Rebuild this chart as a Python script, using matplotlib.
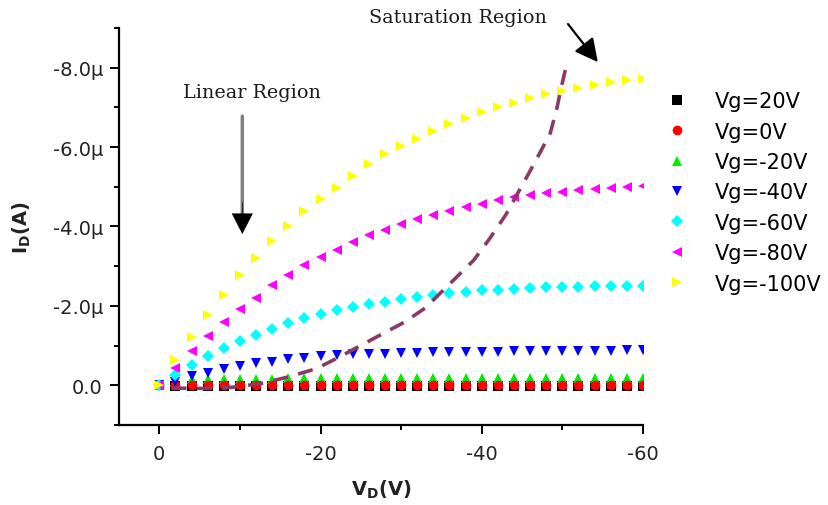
import numpy as np
import matplotlib
matplotlib.use("Agg")
import matplotlib.pyplot as plt
from matplotlib.ticker import FixedLocator, FuncFormatter

# drain voltage sweep (V)
vd = [0, -2, -4, -6, -8, -10, -12, -14, -16, -18, -20, -22, -24, -26, -28, -30,
      -32, -34, -36, -38, -40, -42, -44, -46, -48, -50, -52, -54, -56, -58, -60]

# drain current (uA) for each gate voltage
id_20 = [0.0, 0.02, 0.02, 0.02, 0.02, 0.02, 0.02, 0.02, 0.02, 0.02, 0.02, 0.02,
         0.02, 0.02, 0.02, 0.02, 0.02, 0.02, 0.02, 0.02, 0.02, 0.02, 0.02, 0.02,
         0.02, 0.02, 0.02, 0.02, 0.02, 0.02, 0.02]
id_0 = [0.0, 0.0, 0.0, 0.0, 0.0, 0.0, 0.0, 0.0, 0.0, 0.0, 0.0, 0.0, 0.0, 0.0,
        0.0, 0.0, 0.0, 0.0, 0.0, 0.0, 0.0, 0.0, 0.0, 0.0, 0.0, 0.0, 0.0, 0.0,
        0.0, 0.0, 0.0]
id_m20 = [0.0, -0.10, -0.15, -0.17, -0.17, -0.17, -0.17, -0.17, -0.18, -0.18,
          -0.18, -0.18, -0.18, -0.18, -0.18, -0.18, -0.18, -0.18, -0.18, -0.18,
          -0.18, -0.18, -0.18, -0.18, -0.18, -0.18, -0.18, -0.18, -0.18, -0.18,
          -0.18]
id_m40 = [0.0, -0.09, -0.23, -0.31, -0.41, -0.49, -0.55, -0.59, -0.65, -0.69,
          -0.73, -0.76, -0.78, -0.80, -0.80, -0.81, -0.82, -0.83, -0.84, -0.84,
          -0.85, -0.85, -0.86, -0.86, -0.86, -0.87, -0.87, -0.87, -0.87, -0.88,
          -0.88]
id_m60 = [0.0, -0.25, -0.52, -0.73, -0.95, -1.11, -1.27, -1.42, -1.56, -1.69,
          -1.79, -1.89, -1.97, -2.04, -2.11, -2.18, -2.23, -2.28, -2.32, -2.36,
          -2.39, -2.41, -2.43, -2.45, -2.47, -2.47, -2.48, -2.49, -2.50, -2.51,
          -2.51]
id_m80 = [0.0, -0.44, -0.86, -1.25, -1.60, -1.92, -2.21, -2.52, -2.78, -3.02,
          -3.22, -3.42, -3.61, -3.78, -3.92, -4.06, -4.18, -4.29, -4.39, -4.49,
          -4.57, -4.67, -4.74, -4.79, -4.84, -4.88, -4.91, -4.94, -4.96, -5.00,
          -5.02]
id_m100 = [0.0, -0.63, -1.22, -1.77, -2.28, -2.77, -3.21, -3.63, -4.01, -4.39,
           -4.70, -4.98, -5.28, -5.57, -5.82, -6.04, -6.20, -6.41, -6.58, -6.73,
           -6.88, -7.02, -7.12, -7.23, -7.33, -7.41, -7.50, -7.56, -7.63, -7.68,
           -7.72]

# boundary between linear and saturation region
sat_vd = [-1.5, -5.5, -9, -12.5, -16, -19.5, -22.5, -25.5, -28, -30.5, -33,
          -35, -37, -39, -41, -43, -44.5, -46, -47.2, -48.5, -49.3, -49.8,
          -50.2, -50.6]
sat_id = [0.07, 0.08, 0.05, -0.04, -0.21, -0.42, -0.73, -1.06, -1.33, -1.6,
          -1.95, -2.35, -2.75, -3.15, -3.7, -4.3, -4.85, -5.4, -5.85, -6.35,
          -6.96, -7.44, -7.8, -8.14]

labels = ["Vg=20V", "Vg=0V", "Vg=-20V", "Vg=-40V", "Vg=-60V", "Vg=-80V", "Vg=-100V"]
series = [id_20, id_0, id_m20, id_m40, id_m60, id_m80, id_m100]
markers = ["s", "o", "^", "v", "D", "<", ">"]
colors = ["black", "red", "#00ee00", "blue", "cyan", "magenta", "yellow"]
zorders = [2.2, 2.4, 2.3, 2.5, 2.6, 2.7, 2.8]

plt.rcParams["font.family"] = "DejaVu Sans"

fig = plt.figure(figsize=(8.29, 5.06), dpi=100)
ax = fig.add_axes([0.1435, 0.1581, 0.6321, 0.7846])

for y, lab, m, c, z in zip(series, labels, markers, colors, zorders):
    ms = 6.5 if m == "D" else 7
    ax.plot(vd, y, linestyle="none", marker=m, color=c, markersize=ms,
            markeredgewidth=0, label=lab, zorder=z)

ax.plot(sat_vd, sat_id, linestyle=(0, (4.2, 2.9)), color="#8b3a66",
        linewidth=2.6, zorder=2.9)

ax.set_xlim(5, -60)
ax.set_ylim(1, -9)

ax.spines["top"].set_visible(False)
ax.spines["right"].set_visible(False)
ax.spines["left"].set_linewidth(1.6)
ax.spines["bottom"].set_linewidth(1.6)

ax.xaxis.set_major_locator(FixedLocator([0, -20, -40, -60]))
ax.xaxis.set_minor_locator(FixedLocator([-10, -30, -50]))
ax.yaxis.set_major_locator(FixedLocator([0, -2, -4, -6, -8]))
ax.yaxis.set_minor_locator(FixedLocator([1, -1, -3, -5, -7, -9]))
ax.xaxis.set_major_formatter(FuncFormatter(lambda v, p: "%g" % v))
ax.yaxis.set_major_formatter(
    FuncFormatter(lambda v, p: "0.0" if v == 0 else "%.1f\u03bc" % v))

ax.tick_params(which="major", length=6.5, width=1.4, labelsize=14,
               labelcolor="#222222", pad=5)
ax.tick_params(which="minor", length=3.8, width=1.4)
ax.tick_params(axis="x", which="major", pad=7)

ax.set_xlabel("V$_\\mathregular{D}$(V)", fontsize=14, fontweight="bold",
              labelpad=11, color="#222222")
ax.set_ylabel("I$_\\mathregular{D}$(A)", fontsize=14, fontweight="bold",
              labelpad=14, color="#222222")

# region annotations
ax.text(-11.5, -7.38, "Linear Region", family="DejaVu Serif", fontsize=13.8,
        ha="center", va="center", color="#1a1a1a")
ax.text(-37.0, -9.28, "Saturation Region", family="DejaVu Serif", fontsize=13.8,
        ha="center", va="center", color="#1a1a1a", clip_on=False)

ax.annotate("", xy=(-10.3, -4.3), xytext=(-10.3, -6.78),
            arrowprops=dict(arrowstyle="-", color="#808080", linewidth=2.5,
                            shrinkA=0, shrinkB=0))
ax.annotate("", xy=(-10.3, -3.81), xytext=(-10.3, -4.6),
            arrowprops=dict(arrowstyle="-|>,head_length=0.7,head_width=0.36",
                            mutation_scale=20, color="black", linewidth=0.5,
                            shrinkA=0, shrinkB=0))
ax.annotate("", xy=(-54.4, -8.14), xytext=(-50.7, -9.1), annotation_clip=False,
            arrowprops=dict(arrowstyle="-|>,head_length=0.7,head_width=0.36",
                            mutation_scale=20, color="black", linewidth=1.6,
                            shrinkA=0, shrinkB=0))

ax.legend(loc="upper left", bbox_to_anchor=(0.804, 0.818),
          bbox_transform=fig.transFigure, frameon=False, fontsize=15,
          handlelength=1.0, handletextpad=1.3, labelspacing=0.5,
          borderpad=0, borderaxespad=0, markerscale=1.0)

fig.savefig("out.png", dpi=100)
